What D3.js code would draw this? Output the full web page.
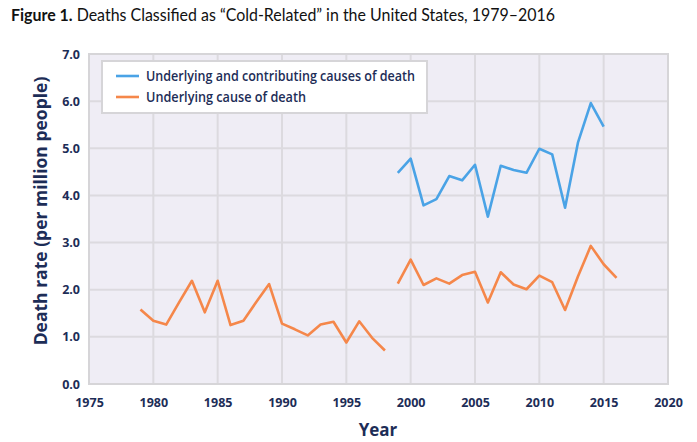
<!DOCTYPE html>
<html><head><meta charset="utf-8">
<script src="https://cdn.jsdelivr.net/npm/d3@7"></script>
<style>body{margin:0;background:#fff;} svg{display:block;}</style>
</head><body>
<svg id="c" width="697" height="442"></svg>
<script>
const years1 = [1999,2000,2001,2002,2003,2004,2005,2006,2007,2008,2009,2010,2011,2012,2013,2014,2015];
const underlyingContributing = [4.48,4.78,3.79,3.92,4.41,4.32,4.65,3.55,4.63,4.54,4.48,4.99,4.87,3.74,5.12,5.96,5.46];
const yearsA = [1979,1980,1981,1982,1983,1984,1985,1986,1987,1988,1989,1990,1991,1992,1993,1994,1995,1996,1997,1998];
const underlyingA = [1.58,1.34,1.26,1.73,2.19,1.52,2.19,1.25,1.34,1.74,2.12,1.28,1.16,1.03,1.26,1.32,0.88,1.33,0.98,0.71];
const yearsB = [1999,2000,2001,2002,2003,2004,2005,2006,2007,2008,2009,2010,2011,2012,2013,2014,2015,2016];
const underlyingB = [2.13,2.64,2.10,2.24,2.13,2.31,2.38,1.73,2.37,2.11,2.01,2.30,2.16,1.57,2.28,2.93,2.54,2.25];
const xTicks = [1975,1980,1985,1990,1995,2000,2005,2010,2015,2020];
const yTicks = [0,1,2,3,4,5,6,7];
const seriesNames = ["Underlying and contributing causes of death","Underlying cause of death"];

const navy = "#1d2d57", blue = "#4aa3e6", orange = "#f5874a", grid = "#dcdadf";
const svg = d3.select("#c");
const L = 89, R = 668, T = 54, B = 384;
const x = d3.scaleLinear().domain([1975,2020]).range([L,R]);
const y = d3.scaleLinear().domain([0,7]).range([B,T]);

// title
const title = svg.append("text").attr("x",11).attr("y",21)
  .attr("font-family","Lato, 'Open Sans', sans-serif").attr("font-size",17).attr("fill","#111")
  .attr("textLength",544).attr("lengthAdjust","spacingAndGlyphs");
title.append("tspan").attr("font-weight","bold").text("Figure 1.");
title.append("tspan").text(" Deaths Classified as \u201cCold-Related\u201d in the United States, 1979\u20132016");

// plot bg
svg.append("rect").attr("x",L).attr("y",T).attr("width",R-L).attr("height",B-T).attr("fill","#efedf5");

// grid
svg.append("g").selectAll("line").data(yTicks.slice(1,-1)).join("line")
  .attr("x1",L).attr("x2",R).attr("y1",d=>y(d)).attr("y2",d=>y(d))
  .attr("stroke",grid).attr("stroke-width",2);
svg.append("g").selectAll("line").data(xTicks.slice(1,-1)).join("line")
  .attr("y1",T).attr("y2",B).attr("x1",d=>x(d)).attr("x2",d=>x(d))
  .attr("stroke",grid).attr("stroke-width",2);
svg.append("rect").attr("x",L).attr("y",T).attr("width",R-L).attr("height",B-T)
  .attr("fill","none").attr("stroke","#d6d5d8").attr("stroke-width",2);

// axes (labels)
const yAxis = d3.axisLeft(y).tickValues(yTicks).tickFormat(d3.format(".1f")).tickSize(0).tickPadding(9);
const gy = svg.append("g").attr("transform",`translate(${L},0)`).call(yAxis);
const xAxis = d3.axisBottom(x).tickValues(xTicks).tickFormat(d3.format("d")).tickSize(0).tickPadding(14);
const gx = svg.append("g").attr("transform",`translate(0,${B})`).call(xAxis);
[gx,gy].forEach(g=>{
  g.select(".domain").remove();
  g.selectAll("text").attr("font-family","'Open Sans', sans-serif").attr("font-weight","bold")
    .attr("font-size",12.5).attr("fill",navy);
});

svg.append("text").attr("x",378).attr("y",436).attr("text-anchor","middle")
  .attr("font-family","'Open Sans', sans-serif").attr("font-weight","bold").attr("font-size",17).attr("fill",navy).text("Year");
svg.append("text").attr("transform","translate(47,211) rotate(-90)").attr("text-anchor","middle")
  .attr("font-family","'Open Sans', sans-serif").attr("font-weight","bold").attr("font-size",17.5).attr("fill",navy)
  .text("Death rate (per million people)");

// lines
const line = d3.line().x(d=>x(d[0])).y(d=>y(d[1]));
const draw = (xs,vs,c)=>svg.append("path").datum(xs.map((d,i)=>[d,vs[i]])).attr("d",line)
  .attr("fill","none").attr("stroke",c).attr("stroke-width",2.6).attr("stroke-linejoin","round");
draw(yearsA,underlyingA,orange);
draw(yearsB,underlyingB,orange);
draw(years1,underlyingContributing,blue);

// legend
svg.append("rect").attr("x",102).attr("y",61).attr("width",325).attr("height",52)
  .attr("fill","#fff").attr("stroke","#d6d5d8").attr("stroke-width",2);
const lg = svg.append("g");
const lens = [269, 160];
[blue,orange].forEach((c,i)=>{
  const yy = 76 + i*21;
  lg.append("line").attr("x1",116).attr("x2",139).attr("y1",yy).attr("y2",yy).attr("stroke",c).attr("stroke-width",2.6);
  lg.append("text").attr("x",146).attr("y",yy+5).attr("font-family","'Open Sans', sans-serif")
    .attr("font-weight","600").attr("font-size",13.5).attr("fill",navy)
    .attr("textLength",lens[i]).attr("lengthAdjust","spacingAndGlyphs").text(seriesNames[i]);
});
</script>
</body></html>
